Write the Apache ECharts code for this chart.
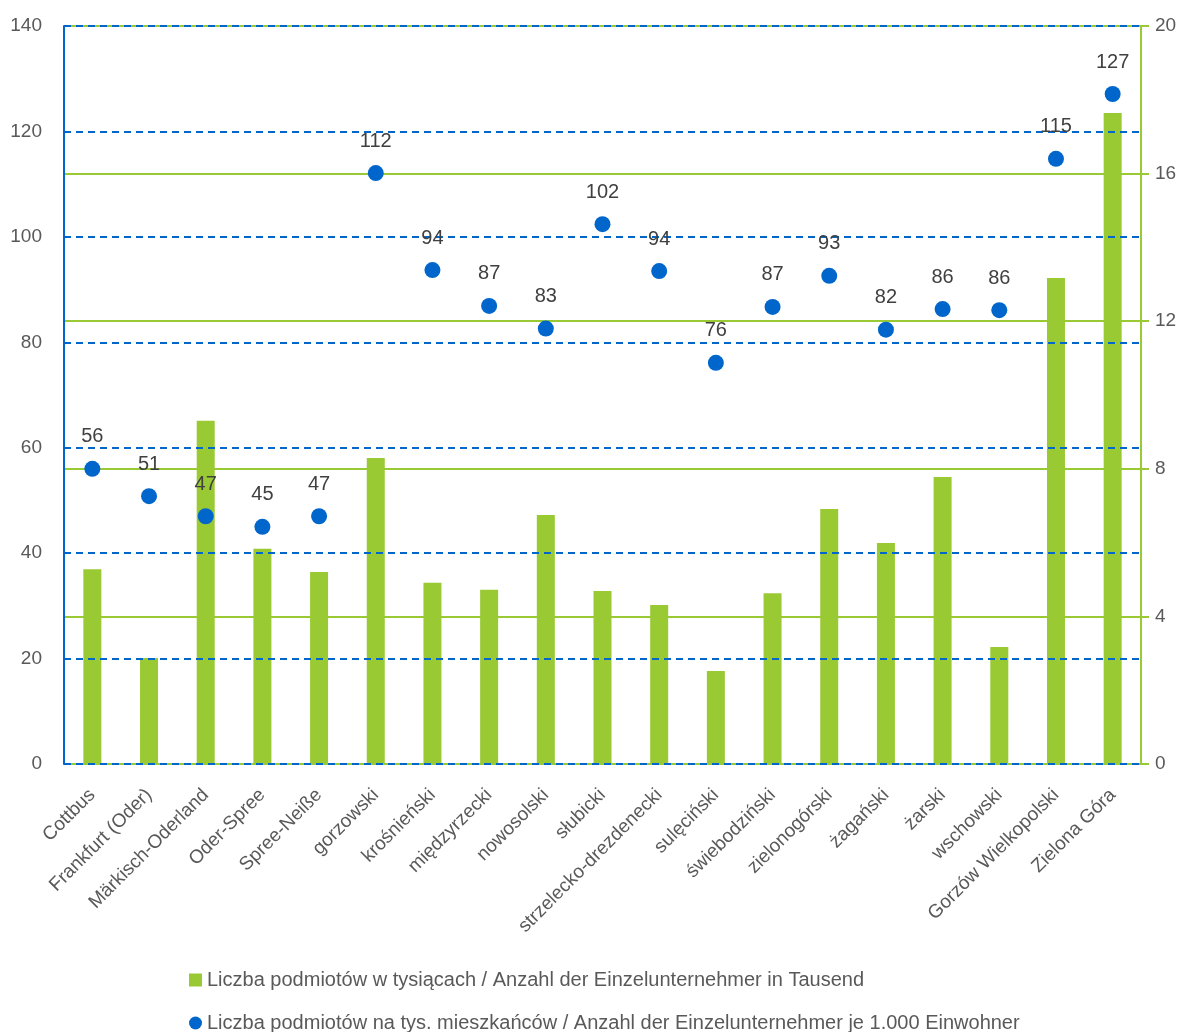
<!DOCTYPE html>
<html>
<head>
<meta charset="utf-8">
<script src="https://cdn.jsdelivr.net/npm/echarts@6/dist/echarts.min.js"></script>
<style>
html, body { margin: 0; padding: 0; background: #fff; }
#chart { width: 1186px; height: 1032px; }
</style>
</head>
<body>
<div id="chart"></div>
<script>
// powiaty / Landkreise
var categories = ['Cottbus', 'Frankfurt (Oder)', 'Märkisch-Oderland', 'Oder-Spree', 'Spree-Neiße',
	'gorzowski', 'krośnieński', 'międzyrzecki', 'nowosolski', 'słubicki', 'strzelecko-drezdenecki',
	'sulęciński', 'świebodziński', 'zielonogórski', 'żagański', 'żarski', 'wschowski',
	'Gorzów Wielkopolski', 'Zielona Góra'];

// liczba podmiotów w tysiącach (prawa oś)
var firmsThousands = [5.28, 2.87, 9.30, 5.83, 5.20, 8.29, 4.91, 4.72, 6.75, 4.69, 4.31,
	2.52, 4.63, 6.91, 5.99, 7.78, 3.17, 13.17, 17.64];

// liczba podmiotów na 1000 mieszkańców (lewa oś)
var firmsPer1000 = [56, 50.8, 47, 45, 47, 112.1, 93.7, 86.9, 82.6, 102.4, 93.5,
	76.1, 86.7, 92.6, 82.4, 86.3, 86.1, 114.8, 127.1];

var leftTicks = [0, 140, 20];
var rightTicks = [0, 20, 4];

var seriesNames = ['Liczba podmiotów w tysiącach / Anzahl der Einzelunternehmer in Tausend',
	'Liczba podmiotów na tys. mieszkańców / Anzahl der Einzelunternehmer je 1.000 Einwohner'];

var FONT = "'Liberation Sans', Arial, sans-serif";
var GREEN = '#99ca33';
var BLUE = '#0066cc';

var legendText = { fontSize: 20, color: '#595959', fontFamily: FONT };

var myChart = echarts.init(document.getElementById('chart'));
var option = {
	animation: false,
	textStyle: { fontFamily: FONT },
	grid: { left: 64, right: 45, top: 26, bottom: 268, containLabel: false },
	// dwie legendy, jedna pod drugą
	legend: [
		{
			left: 184, top: 965,
			itemWidth: 13, itemHeight: 13, itemGap: 3,
			textStyle: legendText,
			data: [{ name: seriesNames[0], icon: 'rect' }]
		},
		{
			left: 184, top: 1008,
			itemWidth: 13, itemHeight: 13, itemGap: 3,
			textStyle: legendText,
			data: [{ name: seriesNames[1], icon: 'circle' }]
		}
	],
	xAxis: {
		type: 'category',
		data: categories,
		axisLine: { lineStyle: { color: '#d9d9c9', width: 2 } },
		axisTick: { show: false },
		axisLabel: { rotate: 45, interval: 0, fontSize: 19, color: '#595959', margin: 28 }
	},
	yAxis: [
		{
			type: 'value',
			min: leftTicks[0], max: leftTicks[1], interval: leftTicks[2],
			z: 3,
			axisLine: { show: true, lineStyle: { color: BLUE, width: 2 } },
			axisTick: { show: false },
			axisLabel: { fontSize: 19, color: '#595959', margin: 22 },
			splitLine: { lineStyle: { color: BLUE, width: 2, type: [7, 5] } }
		},
		{
			type: 'value',
			position: 'right',
			min: rightTicks[0], max: rightTicks[1], interval: rightTicks[2],
			z: 2,
			axisLine: { show: true, lineStyle: { color: GREEN, width: 2 } },
			axisTick: { show: true, length: 8, lineStyle: { color: GREEN, width: 2 } },
			axisLabel: { fontSize: 19, color: '#595959', margin: 14 },
			splitLine: { lineStyle: { color: GREEN, width: 2 } }
		}
	],
	series: [
		{
			name: seriesNames[0],
			type: 'bar',
			yAxisIndex: 1,
			barWidth: 18,
			itemStyle: { color: GREEN },
			data: firmsThousands
		},
		{
			name: seriesNames[1],
			type: 'scatter',
			yAxisIndex: 0,
			symbolSize: 16,
			z: 5,
			itemStyle: { color: BLUE, opacity: 1 },
			label: {
				show: true,
				position: 'top',
				distance: 14,
				fontSize: 20,
				color: '#404040',
				formatter: function (p) { return Math.round(p.value); }
			},
			data: firmsPer1000
		}
	]
};
myChart.setOption(option);
</script>
</body>
</html>
